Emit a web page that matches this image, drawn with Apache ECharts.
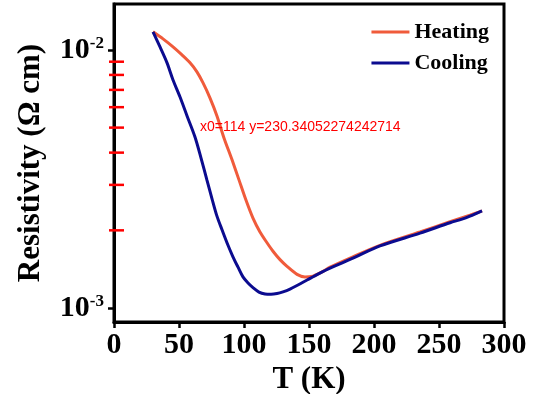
<!DOCTYPE html>
<html>
<head>
<meta charset="utf-8">
<script src="https://cdn.jsdelivr.net/npm/echarts@6/dist/echarts.min.js"></script>
<style>
  html, body { margin: 0; padding: 0; background: #fff; }
  #chart { width: 540px; height: 394px; }
</style>
</head>
<body>
<div id="chart"></div>
<script>
// temperature (K) and resistivity (ohm cm)
const heatT = [30.0, 37.7, 45.4, 52.3, 58.5, 63.8, 68.5, 73.8, 79.2, 84.6, 90.8, 96.2, 101.5, 106.9, 112.3, 117.7, 122.3, 127.7, 133.1, 140.8, 146.9, 153.1, 160.0, 166.2, 183.8, 204.6, 235.4, 258.5, 273.8, 283.1];
const heatR = [0.01175, 0.01103, 0.01027, 0.00956, 0.00891, 0.00822, 0.00745, 0.00652, 0.00555, 0.00456, 0.00375, 0.00313, 0.00262, 0.00223, 0.00197, 0.00179, 0.00166, 0.00154, 0.00145, 0.00135, 0.00132, 0.00133, 0.00138, 0.00144, 0.00158, 0.00175, 0.00197, 0.00216, 0.00229, 0.00238];

const coolT = [30.0, 35.4, 40.8, 45.4, 50.8, 56.2, 62.3, 66.9, 71.5, 75.4, 79.2, 83.1, 87.7, 91.5, 95.4, 99.2, 103.1, 106.9, 111.5, 116.2, 120.8, 125.4, 130.0, 135.4, 141.5, 148.5, 156.9, 166.2, 183.8, 204.6, 235.4, 258.5, 267.7, 273.8, 283.1];
const coolR = [0.01175, 0.01027, 0.00891, 0.00765, 0.00657, 0.00555, 0.00460, 0.00382, 0.00313, 0.00265, 0.00227, 0.00201, 0.00175, 0.00158, 0.00144, 0.00132, 0.00125, 0.00120, 0.001153, 0.001133, 0.00113, 0.001138, 0.001156, 0.001185, 0.001228, 0.001284, 0.001354, 0.001429, 0.00156, 0.00174, 0.00195, 0.00214, 0.00221, 0.00227, 0.00238];

// y axis: labelled decades and minor ticks in between
const yLabels = [0.001, 0.01];
const yMinor = [0.002, 0.003, 0.004, 0.005, 0.006, 0.007, 0.008, 0.009];

const font = "'Times New Roman', 'Liberation Serif', serif";
const yMin = 0.000883, yMax = 0.01506;

const chart = echarts.init(document.getElementById('chart'));

const pairs = (xs, ys) => xs.map((x, i) => [x, ys[i]]);

chart.setOption({
  animation: false,
  grid: {
    left: 114, right: 36, top: 4, bottom: 72,
    outerBoundsMode: 'none',
    containLabel: false,
    show: true, borderColor: '#000', borderWidth: 3
  },
  legend: {
    orient: 'vertical',
    right: 46, top: 16,
    itemWidth: 38, itemHeight: 3, itemGap: 9,
    icon: 'rect',
    textStyle: { fontFamily: font, fontWeight: 'bold', fontSize: 22, color: '#000' },
    data: ['Heating', 'Cooling']
  },
  xAxis: {
    type: 'value',
    min: 0, max: 300, interval: 50,
    name: 'T (K)',
    nameLocation: 'middle',
    nameGap: 28,
    nameTextStyle: { fontFamily: font, fontWeight: 'bold', fontSize: 31, color: '#000' },
    axisLine: { lineStyle: { color: '#000', width: 3 } },
    axisTick: { inside: false, length: 6, lineStyle: { color: '#000', width: 2.5 } },
    axisLabel: { margin: 8, fontFamily: font, fontWeight: 'bold', fontSize: 30, color: '#000' },
    splitLine: { show: false }
  },
  yAxis: {
    type: 'log',
    logBase: 10,
    min: yMin, max: yMax,
    name: 'Resistivity (\u03A9 cm)',
    nameLocation: 'middle',
    nameGap: 68,
    nameTextStyle: { fontFamily: font, fontWeight: 'bold', fontSize: 31, color: '#000' },
    axisLine: { show: true, lineStyle: { color: '#000', width: 3 } },
    axisTick: { inside: false, length: 6, customValues: yLabels, lineStyle: { color: '#000', width: 2.5 } },
    axisLabel: {
      margin: 10,
      customValues: yLabels,
      formatter: v => '{b|10}{s|' + Math.round(Math.log10(v)) + '}',
      rich: {
        b: { fontFamily: font, fontWeight: 'bold', fontSize: 30, color: '#000' },
        s: { fontFamily: font, fontWeight: 'bold', fontSize: 17, color: '#000', verticalAlign: 'top' }
      }
    },
    splitLine: { show: false }
  },
  series: [
    {
      name: 'Heating', type: 'line', smooth: 0.3, showSymbol: false,
      color: '#f05b3b',
      lineStyle: { width: 3 },
      data: pairs(heatT, heatR)
    },
    {
      name: 'Cooling', type: 'line', smooth: 0.3, showSymbol: false,
      color: '#0b0b8f',
      lineStyle: { width: 3 },
      data: pairs(coolT, coolR)
    }
  ]
});

// minor ticks of the log axis, positioned through the axis scale
const x0 = chart.convertToPixel({ xAxisIndex: 0 }, 0);
const tickEls = yMinor.map(v => {
  const y = chart.convertToPixel({ yAxisIndex: 0 }, v);
  return {
    type: 'line',
    silent: true,
    z: 100,
    shape: { x1: x0 - 5, y1: y, x2: x0 + 10, y2: y },
    style: { stroke: '#ff0000', lineWidth: 2.5 }
  };
});
tickEls.push({
  type: 'text', left: 200, top: 120, z: 100,
  style: { text: 'x0=' + x0 + ' y=' + chart.convertToPixel({ yAxisIndex: 0 }, 0.002), fill: '#f00', fontSize: 14 }
});
chart.setOption({ graphic: tickEls });
</script>
</body>
</html>
